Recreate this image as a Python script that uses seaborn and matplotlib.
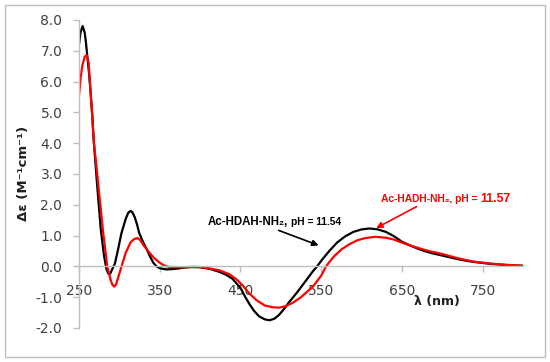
import matplotlib
matplotlib.use("Agg")
import matplotlib.pyplot as plt
import seaborn as sns
import pandas as pd
from matplotlib.patches import Rectangle

# Ac-HDAH-NH2, pH = 11.54 (black)
wl_hdah = [250, 252, 254.5, 257, 258.6, 262.7, 266, 268.5, 272, 277, 281, 284, 286, 287.4, 289, 291, 294.4, 298,
           302.7, 308, 311, 313.8, 316, 319, 322, 324.5, 330, 334, 338, 342, 346, 350, 358, 370, 380, 390, 400,
           412, 424, 432, 440, 450, 455, 461, 467, 473, 480, 486, 492, 498, 505, 510, 520, 530, 540, 545, 550, 560,
           570, 580, 590, 600, 610, 620, 630, 640, 650, 660, 670, 680, 690, 700, 710, 720, 730, 740,
           750, 760, 770, 780, 790, 800]
de_hdah = [7.2, 7.6, 7.8, 7.6, 7.27, 6.2, 5.1, 4.0, 2.8, 1.2, 0.35, -0.08, -0.22, -0.26, -0.22, -0.1, 0.08, 0.5,
           1.09, 1.55, 1.74, 1.8, 1.76, 1.6, 1.35, 1.09, 0.75, 0.55, 0.32, 0.12, 0.0, -0.06, -0.1, -0.08, -0.04, -0.02, -0.03,
           -0.08, -0.18, -0.27, -0.4, -0.7, -0.95, -1.22, -1.45, -1.62, -1.72, -1.75, -1.7, -1.57, -1.35, -1.17, -0.85, -0.5, -0.15, 0.0, 0.18, 0.5,
           0.78, 0.98, 1.12, 1.2, 1.23, 1.2, 1.12, 0.98, 0.8, 0.68, 0.57, 0.48, 0.41, 0.35, 0.29, 0.23, 0.18, 0.14,
           0.11, 0.08, 0.06, 0.04, 0.03, 0.02]

# Ac-HADH-NH2, pH = 11.57 (red)
wl_hadh = [250, 252, 254, 257, 259.5, 262, 264, 266, 268.5, 271, 276, 280, 285, 289, 291, 293.6, 296, 299,
           302.7, 308, 314, 318, 322.4, 326, 330, 334, 338, 342, 346, 350, 354, 358, 365, 375, 390, 400,
           412, 424, 436, 445, 452, 461, 470, 480, 490, 498, 505, 515, 525, 540, 550, 556, 565, 575, 585,
           595, 605, 617, 630, 640, 650, 660, 670, 680, 690, 700, 710, 720, 730, 740, 750, 760, 770,
           780, 790, 800]
de_hadh = [5.55, 6.1, 6.5, 6.8, 6.86, 6.6, 5.8, 5.0, 4.0, 3.4, 2.1, 1.09, 0.0, -0.42, -0.58, -0.66, -0.58, -0.32,
           0.0, 0.45, 0.78, 0.88, 0.92, 0.85, 0.68, 0.55, 0.42, 0.3, 0.2, 0.12, 0.05, 0.0, -0.03, -0.03, -0.02, -0.02,
           -0.07, -0.13, -0.25, -0.42, -0.6, -0.88, -1.1, -1.27, -1.33, -1.34, -1.3, -1.18, -1.0, -0.65, -0.3, 0.0, 0.3, 0.55, 0.72,
           0.85, 0.92, 0.96, 0.93, 0.87, 0.77, 0.68, 0.6, 0.52, 0.46, 0.4, 0.33, 0.26, 0.2, 0.15, 0.12, 0.09, 0.07,
           0.05, 0.03, 0.02]

x_ticks = [250, 350, 450, 550, 650, 750]
y_ticks = [-2.0, -1.0, 0.0, 1.0, 2.0, 3.0, 4.0, 5.0, 6.0, 7.0, 8.0]

df = pd.concat([
    pd.DataFrame({"wl": wl_hdah, "de": de_hdah, "sample": "HDAH"}),
    pd.DataFrame({"wl": wl_hadh, "de": de_hadh, "sample": "HADH"}),
], ignore_index=True)

sns.set_style("white")
plt.rcParams['font.family'] = ['DejaVu Sans']

fig = plt.figure(figsize=(5.5, 3.62), dpi=100)
ax = fig.add_axes([0.1436, 0.094, 0.8074, 0.851])

sns.lineplot(data=df, x="wl", y="de", hue="sample", palette={"HDAH": "black", "HADH": "#FF0000"},
             hue_order=["HDAH", "HADH"], linewidth=1.6, legend=False, ax=ax, estimator=None, sort=True)

ax.set_xlim(250, 800)
ax.set_ylim(-2.0, 8.0)
ax.set_xticks(x_ticks)
ax.set_xticklabels([str(t) for t in x_ticks])
ax.set_yticks(y_ticks)
ax.set_yticklabels([f"{t:.1f}" for t in y_ticks])
ax.set_xlabel("")
ax.set_ylabel("")

gray = "#BFBFBF"
for s in ["top", "right"]:
    ax.spines[s].set_visible(False)
ax.spines["left"].set_color(gray)
ax.spines["bottom"].set_color(gray)
ax.spines["bottom"].set_position(("data", 0))
ax.spines["left"].set_linewidth(1.0)
ax.spines["bottom"].set_linewidth(1.0)

ax.tick_params(axis="y", direction="out", length=4, width=1, color=gray, pad=8,
               labelsize=10, labelcolor="#404040", left=True)
ax.tick_params(axis="x", direction="out", length=4, width=1, color=gray, pad=9,
               labelsize=10, labelcolor="#404040", bottom=True)

# axis titles
fig.text(0.042, 0.52, "Δε (M⁻¹cm⁻¹)", rotation=90, ha="center", va="center",
         fontsize=9.5, fontweight="bold", color="#202020")
ax.text(693, -1.14, "λ (nm)", ha="center", va="center", fontsize=9, fontweight="bold",
        color="#202020")

ann_family = ["Liberation Sans", "DejaVu Sans"]


def chain_text(x, y, parts, color, gap_px=3):
    """Draw text pieces of different sizes one after another on a shared baseline."""
    fig.canvas.draw()
    renderer = fig.canvas.get_renderer()
    t = ax.text(x, y, parts[0][0], fontsize=parts[0][1], fontweight="bold", color=color,
                ha="left", va="baseline", family=ann_family)
    for txt, size in parts[1:]:
        ext = t.get_window_extent(renderer=renderer)
        xd, _ = ax.transData.inverted().transform((ext.x1 + gap_px, 0))
        t = ax.text(xd, y, txt, fontsize=size, fontweight="bold", color=color,
                    ha="left", va="baseline", family=ann_family)


# annotations
ax.annotate("", xy=(550, 0.65), xytext=(494, 1.2),
            arrowprops=dict(arrowstyle="-|>", color="black", lw=1.2, mutation_scale=9))
chain_text(409, 1.33, [("Ac-HDAH-NH₂,", 8.3), ("pH = 11.54", 7.4)], "black")

ax.annotate("", xy=(615, 1.2), xytext=(671, 1.98),
            arrowprops=dict(arrowstyle="-|>", color="#FF0000", lw=1.2, mutation_scale=9))
chain_text(624, 2.09, [("Ac-HADH-NH₂, pH =", 7.4), ("11.57", 8.8)], "#FF0000")

# chart-area border
fig.patches.append(Rectangle((5 / 550, 5 / 362), 540 / 550, 352 / 362, transform=fig.transFigure,
                             fill=False, edgecolor="#BFBFBF", linewidth=1.0))

fig.savefig("out.png", dpi=100)
